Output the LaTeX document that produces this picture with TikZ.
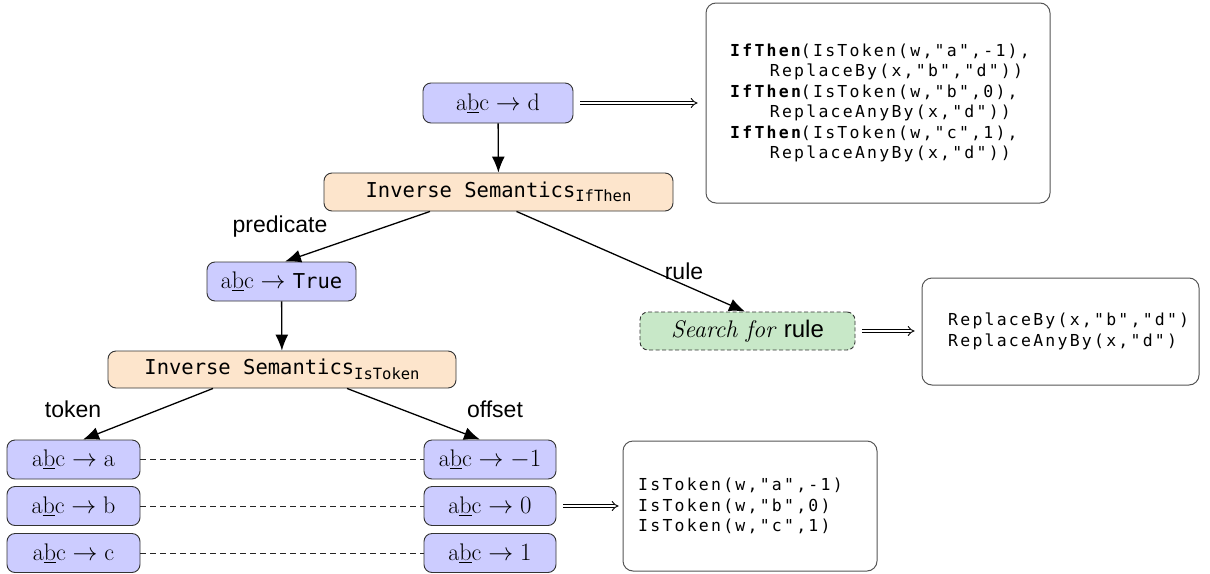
\documentclass[tikz,border=0pt]{standalone}
\usepackage{fontspec}
\setmainfont{Latin Modern Roman}
\newfontfamily\codefont{DejaVu Sans Mono}[LetterSpace=13.5]
\newfontfamily\monofont{DejaVu Sans Mono}
\newfontfamily\labfont{Liberation Sans}
\usetikzlibrary{arrows.meta,calc}
\definecolor{boxblue}{RGB}{204,204,255}
\definecolor{boxorange}{RGB}{253,229,204}
\definecolor{boxgreen}{RGB}{200,232,200}
\definecolor{codeborder}{RGB}{85,85,85}
\newcommand{\abc}{\mathrm{a\underline{b}c}}
\begin{document}
\begin{tikzpicture}[x=1pt,y=-1pt,
  statebox/.style={draw=black!80, fill=boxblue, rounded corners=8pt, line width=0.9pt,
    minimum height=39pt, inner sep=0pt, font=\fontsize{24}{28}\selectfont},
  sembox/.style={draw=black!80, fill=boxorange, rounded corners=8pt, line width=0.9pt,
    minimum width=349pt, minimum height=37pt, inner sep=0pt, font=\monofont\fontsize{20.5}{24}\selectfont},
  searchbox/.style={draw=black!80, dashed, dash pattern=on 4pt off 2.5pt, fill=boxgreen, rounded corners=8pt, line width=0.9pt,
    minimum width=215pt, minimum height=38pt, inner sep=0pt, font=\fontsize{24}{28}\selectfont},
  codebox/.style={draw=codeborder, rounded corners=10pt, line width=1pt, inner sep=0pt},
  codetext/.style={anchor=west, align=left, inner sep=0pt, font=\codefont\fontsize{16.5}{20.5}\selectfont},
  lab/.style={inner sep=0pt, font=\labfont\fontsize{23}{26}\selectfont},
  arr/.style={-{Latex[length=16pt,width=13pt]}, line width=1.3pt},
  dbl/.style={double, double distance=2.6pt, line width=0.9pt, -{Implies}},
  dsh/.style={dash pattern=on 6pt off 4pt, line width=0.8pt, black!85}
]
\useasboundingbox (0,0) rectangle (1210,573);

% top
\node[statebox, minimum width=150pt, minimum height=40pt] (d) at (498,103) {$\abc\to\mathrm{d}$};
\node[sembox, minimum height=38pt] (ifthen) at (498.5,192) {Inverse Semantics\raisebox{-4.5pt}{\fontsize{15.5}{16}\selectfont IfThen}};
\node[statebox, minimum width=149pt] (true) at (281.5,281.5) {$\abc\to$ {\monofont\fontsize{20.5}{24}\selectfont True}};
\node[sembox, minimum width=348pt] (istok) at (282,369.5) {Inverse Semantics\raisebox{-4.5pt}{\fontsize{15.5}{16}\selectfont IsToken}};
\node[searchbox] (search) at (747.5,331) {\textit{Search for} {\labfont rule}};

% bottom rows
\node[statebox, minimum width=133pt] (ra) at (73.5,459.5) {$\abc\to\mathrm{a}$};
\node[statebox, minimum width=133pt] (rb) at (73.5,506) {$\abc\to\mathrm{b}$};
\node[statebox, minimum width=133pt] (rc) at (73.5,553) {$\abc\to\mathrm{c}$};
\node[statebox, minimum width=132pt] (om) at (490,459.5) {$\abc\to -1$};
\node[statebox, minimum width=132pt] (oz) at (490,506) {$\abc\to 0$};
\node[statebox, minimum width=132pt] (oo) at (490,553) {$\abc\to 1$};

% code boxes
\node[codebox, minimum width=344pt, minimum height=200pt] (code1) at (878,103) {};
\node[codetext] (code1t) at (730,103) {{\bfseries IfThen}(IsToken(w,"a",-1),\\
\hspace*{4\fontcharwd\font`I}ReplaceBy(x,"b","d"))\\
{\bfseries IfThen}(IsToken(w,"b",0),\\
\hspace*{4\fontcharwd\font`I}ReplaceAnyBy(x,"d"))\\
{\bfseries IfThen}(IsToken(w,"c",1),\\
\hspace*{4\fontcharwd\font`I}ReplaceAnyBy(x,"d"))};
\node[codebox, minimum width=277pt, minimum height=107pt] (code2) at (1060.5,331.5) {};
\node[codetext] (code2t) at (948,331.5) {ReplaceBy(x,"b","d")\\ReplaceAnyBy(x,"d")};
\node[codebox, minimum width=254pt, minimum height=130pt] (code3) at (750,506) {};
\node[codetext] (code3t) at (638,506) {IsToken(w,"a",-1)\\IsToken(w,"b",0)\\IsToken(w,"c",1)};

% labels
\node[lab] (lpred) at (280,227) {predicate};
\node[lab] (lrule) at (684,271) {rule};
\node[lab] (ltok) at (73,409) {token};
\node[lab] (loff) at (495,409) {offset};

% arrows
\draw[arr] (d) -- (ifthen);
\draw[arr] ([xshift=-68.5pt]ifthen.south) -- ([xshift=3.5pt]true.north);
\draw[arr] ([xshift=18pt]ifthen.south) -- ([xshift=-2.5pt]search.north);
\draw[arr] (true) -- (istok);
\draw[arr] ([xshift=-69pt]istok.south) -- ([xshift=9.5pt]ra.north);
\draw[arr] ([xshift=65pt]istok.south) -- ([xshift=-10pt]om.north);

\draw[dbl, shorten <=7pt, shorten >=8pt] (d.east) -- (code1.west |- d.east);
\draw[dbl, shorten <=7pt, shorten >=7pt] (search.east) -- (code2.west |- search.east);
\draw[dbl, shorten <=7pt, shorten >=4pt] (oz.east) -- (code3.west |- oz.east);

\draw[dsh] (ra) -- (om);
\draw[dsh] (rb) -- (oz);
\draw[dsh] (rc) -- (oo);
\end{tikzpicture}
\end{document}
